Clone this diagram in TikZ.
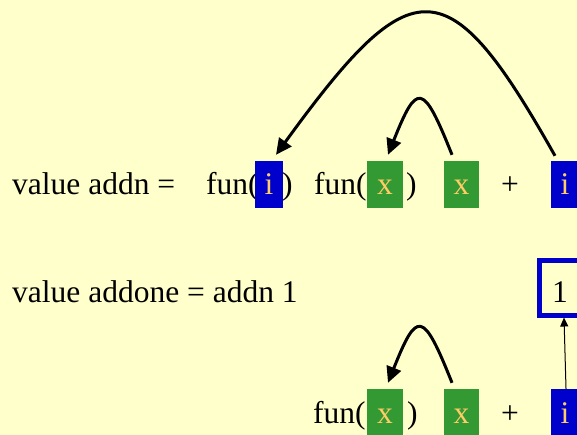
\documentclass[tikz,border=0pt]{standalone}
\usepackage{fontspec}
\setmainfont{Liberation Serif}
\usetikzlibrary{arrows.meta}
\definecolor{bgyellow}{HTML}{FFFFCC}
\definecolor{boxblue}{HTML}{0000CC}
\definecolor{boxgreen}{HTML}{339933}
\definecolor{varorange}{HTML}{FFCC66}
\tikzset{
  txt/.style={anchor=base west,inner sep=0pt,font=\fontsize{31.5}{36}\selectfont},
  varbox/.style={anchor=base,inner sep=0pt,text height=34pt,text depth=13pt,
    text=varorange,font=\fontsize{31.5}{36}\selectfont},
  bluebox/.style={varbox,fill=boxblue,minimum width=28pt},
  greenbox/.style={varbox,fill=boxgreen,minimum width=36pt},
  bind/.style={line width=3pt,-{Triangle[length=16pt,width=15pt]}},
}
\begin{document}
\begin{tikzpicture}[x=1pt,y=-1pt]
        \fill[bgyellow] (0,0) rectangle (577,435);
        \useasboundingbox (0,0) rectangle (577,435);
        % first line
        \node [txt] (addn) at (12,195) {value addn =};
        \node [txt] (funa) at (206,195) {fun(};
        \node [bluebox] (ia) at (269,195) {i};
        \node [txt] (closea) at (282,195) {)};
        \node [txt] (funb) at (314,195) {fun(};
        \node [greenbox] (xa) at (385,195) {x};
        \node [txt] (closeb) at (406,195) {)};
        \node [greenbox,minimum width=35pt] (xb) at (461.5,195) {x};
        \node [txt] (plusa) at (501,195) {+};
        \node [bluebox] (ib) at (565,195) {i};
        \draw [bind] ([xshift=-10pt,yshift=5pt]ib.north) .. controls (448,-34) and (413,-34) .. ([xshift=7pt,yshift=6pt]ia.north);
        \draw [bind] ([xshift=-9.5pt,yshift=6pt]xb.north) .. controls (423,82) and (417,82) .. ([xshift=3pt,yshift=6pt]xa.north);
        % second line
        \node [txt] (addone) at (12,302) {value addone = addn 1};
        \node [anchor=base,inner sep=0pt,text height=42pt,text depth=13pt,minimum width=42pt,
          draw=boxblue,line width=5pt,font=\fontsize{31.5}{36}\selectfont] (one) at (560,302) {1};
        % third line
        \node [txt] (func) at (313,423) {fun(};
        \node [greenbox] (xc) at (385,423) {x};
        \node [txt] (closec) at (407,423) {)};
        \node [greenbox,minimum width=35pt] (xd) at (461.5,423) {x};
        \node [txt] (plusb) at (501,423) {+};
        \node [bluebox] (ic) at (565,423) {i};
        \draw [bind] ([xshift=-9.5pt,yshift=6pt]xd.north) .. controls (423,310) and (417,310) .. ([xshift=3pt,yshift=6pt]xc.north);
        \draw [line width=1pt,-{Triangle[length=9pt,width=8pt]}] ([xshift=1pt]ic.north) -- ([xshift=4pt]one.south);
\end{tikzpicture}
\end{document}
